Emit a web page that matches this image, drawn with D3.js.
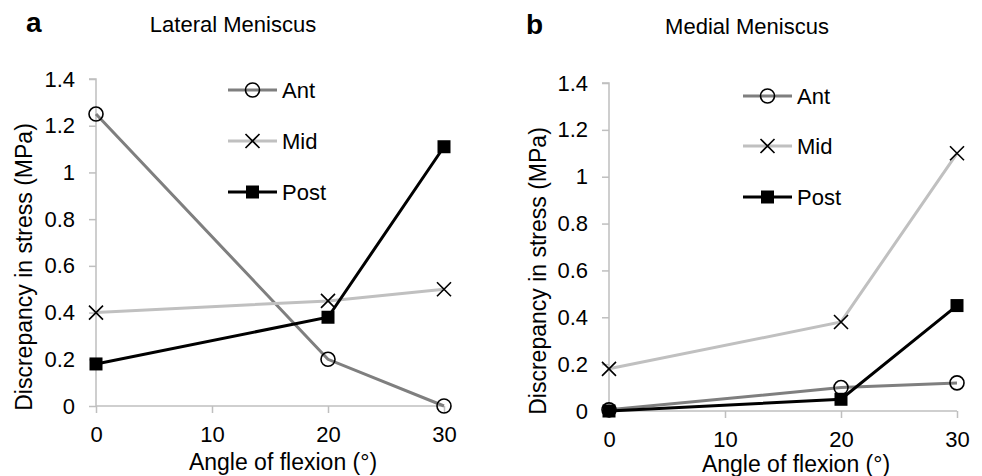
<!DOCTYPE html>
<html>
<head>
<meta charset="utf-8">
<script src="https://cdn.jsdelivr.net/npm/d3@7"></script>
<style>
  body { margin: 0; background: #fff; }
  svg text { font-family: "Liberation Sans", Arial, sans-serif; fill: #000; }
</style>
</head>
<body>
<svg id="chart" width="982" height="476"></svg>
<script>
// angles of flexion
var angles = [0, 20, 30];
var seriesNames = ["Ant", "Mid", "Post"];

// lateral meniscus (panel a)
var lateralAnt = [1.25, 0.2, 0.0];
var lateralMid = [0.4, 0.45, 0.5];
var lateralPost = [0.18, 0.38, 1.11];

// medial meniscus (panel b)
var medialAnt = [0.005, 0.1, 0.12];
var medialMid = [0.18, 0.38, 1.1];
var medialPost = [0.0, 0.05, 0.45];

var xTicks = [0, 10, 20, 30];
var yTicks = [0, 0.2, 0.4, 0.6, 0.8, 1, 1.2, 1.4];
var yTickLabels = ["0", "0.2", "0.4", "0.6", "0.8", "1", "1.2", "1.4"];

var lineColors = {"Ant": "#7f7f7f", "Mid": "#c0c0c0", "Post": "#000000"};
var axisColor = "#bfbfbf";

var svg = d3.select("#chart");

//draws the marker for a series at (x,y)
function drawMarker(g, name, x, y) {
  if (name == "Ant") {
    g.append("circle")
      .attr("cx", x).attr("cy", y).attr("r", 7)
      .attr("fill", "none").attr("stroke", "#000").attr("stroke-width", 1.6);
  } else if (name == "Mid") {
    let s = 7;
    g.append("path")
      .attr("d", "M" + (x-s) + "," + (y-s) + "L" + (x+s) + "," + (y+s) +
                 "M" + (x-s) + "," + (y+s) + "L" + (x+s) + "," + (y-s))
      .attr("stroke", "#000").attr("stroke-width", 1.6).attr("fill", "none");
  } else {
    g.append("rect")
      .attr("x", x-6.5).attr("y", y-6.5).attr("width", 13).attr("height", 13)
      .attr("fill", "#000");
  }
}

function drawPanel(p) {
  var g = svg.append("g");

  var x = d3.scaleLinear().domain([0, 30]).range([p.left, p.right]);
  var y = d3.scaleLinear().domain([0, 1.4]).range([p.bottom, p.top]);

  //y axis
  var yAxis = g.append("g")
    .attr("transform", "translate(" + p.left + ",0)")
    .call(d3.axisLeft(y).tickValues(yTicks)
      .tickFormat(function(d, i){ return yTickLabels[i]; })
      .tickSize(7).tickPadding(14));

  //x axis
  var xAxis = g.append("g")
    .attr("transform", "translate(0," + p.bottom + ")")
    .call(d3.axisBottom(x).tickValues(xTicks).tickSize(7).tickPadding(13));

  [yAxis, xAxis].forEach(function(a){
    a.select(".domain").attr("stroke", axisColor).attr("stroke-width", 1.5);
    a.selectAll(".tick line").attr("stroke", axisColor).attr("stroke-width", 1.5);
    a.selectAll(".tick text").attr("font-size", 22)
      .attr("font-family", "Liberation Sans, Arial, sans-serif").attr("fill", "#000");
  });
  yAxis.select(".domain").attr("d", "M0," + p.bottom + "V" + p.top + "H-7");
  xAxis.select(".domain").attr("d", "M" + p.left + ",0H" + p.right);

  //series
  var line = d3.line()
    .x(function(d){ return x(d[0]); })
    .y(function(d){ return y(d[1]); });

  seriesNames.forEach(function(name){
    var pts = angles.map(function(a, i){ return [a, p.data[name][i]]; });
    g.append("path")
      .datum(pts)
      .attr("d", line)
      .attr("fill", "none")
      .attr("stroke", lineColors[name])
      .attr("stroke-width", 3);
    pts.forEach(function(d){ drawMarker(g, name, x(d[0]), y(d[1])); });
  });

  //legend
  seriesNames.forEach(function(name, i){
    let ly = p.legendY[i];
    g.append("line")
      .attr("x1", p.legendX).attr("x2", p.legendX + 49)
      .attr("y1", ly).attr("y2", ly)
      .attr("stroke", lineColors[name]).attr("stroke-width", 3);
    drawMarker(g, name, p.legendX + 24.5, ly);
    g.append("text")
      .attr("x", p.legendX + 54).attr("y", ly + 8)
      .attr("font-size", 22)
      .text(name);
  });

  //titles
  g.append("text")
    .attr("x", p.titleX).attr("y", p.titleY)
    .attr("text-anchor", "middle").attr("font-size", 22)
    .text(p.title);
  g.append("text")
    .attr("x", p.letterX).attr("y", p.titleY)
    .attr("font-size", 28).attr("font-weight", "bold")
    .text(p.letter);
  g.append("text")
    .attr("x", p.xTitleX).attr("y", p.xTitleY)
    .attr("text-anchor", "middle").attr("font-size", 23)
    .text("Angle of flexion (°)");
  g.append("text")
    .attr("transform", "translate(" + p.yTitleX + "," + p.yTitleY + ") rotate(-90)")
    .attr("text-anchor", "middle").attr("font-size", 23)
    .text("Discrepancy in stress (MPa)");
}

drawPanel({
  letter: "a", title: "Lateral Meniscus",
  left: 96, right: 444, top: 79, bottom: 406,
  titleX: 233, titleY: 32, letterX: 26,
  xTitleX: 283, xTitleY: 470, yTitleX: 32, yTitleY: 267,
  legendX: 228, legendY: [90, 141, 192],
  data: {"Ant": lateralAnt, "Mid": lateralMid, "Post": lateralPost}
});

drawPanel({
  letter: "b", title: "Medial Meniscus",
  left: 609, right: 957, top: 83, bottom: 411,
  titleX: 747, titleY: 34, letterX: 526,
  xTitleX: 796, xTitleY: 472, yTitleX: 546, yTitleY: 271,
  legendX: 743, legendY: [96, 146, 197],
  data: {"Ant": medialAnt, "Mid": medialMid, "Post": medialPost}
});
</script>
</body>
</html>
